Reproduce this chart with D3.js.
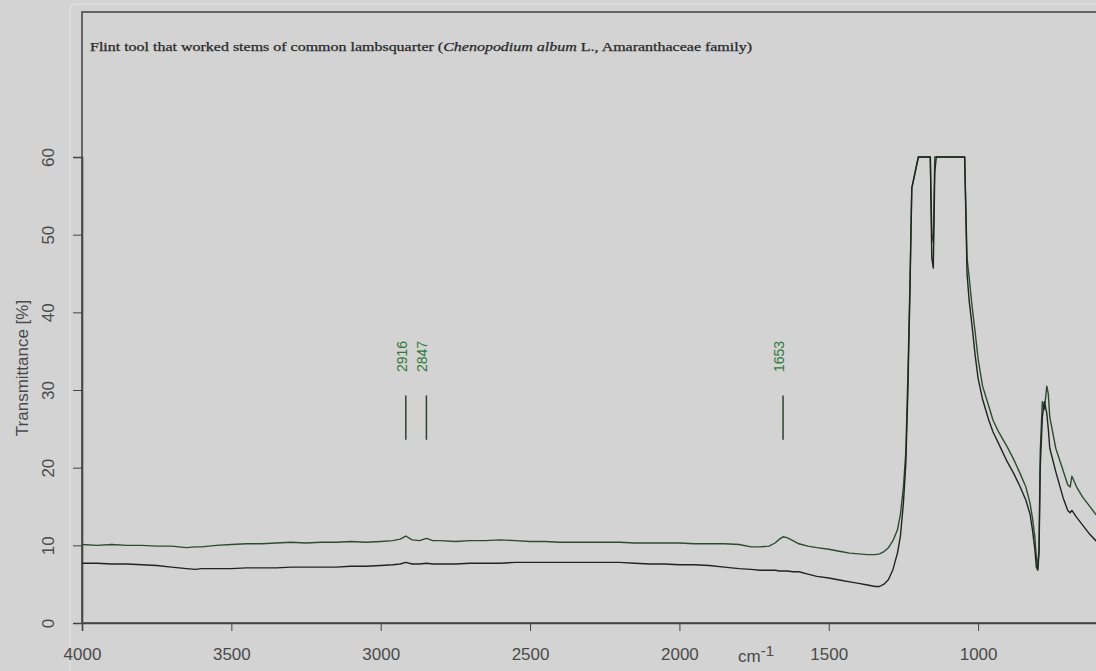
<!DOCTYPE html>
<html>
<head>
<meta charset="utf-8">
<script src="https://cdn.jsdelivr.net/npm/d3@7"></script>
<style>
  html, body { margin: 0; padding: 0; background: #d3d3d3; }
  svg { display: block; }
</style>
</head>
<body>
<svg id="chart" width="1096" height="671"></svg>
<script>
// Wavenumbers (cm-1), shared by both spectra
const wavenumbers = [4000, 3950, 3900, 3850, 3800, 3750, 3700, 3650, 3620, 3600, 3550, 3500, 3450, 3400, 3350, 3300, 3250, 3200, 3150, 3100, 3050, 3000, 2960, 2935, 2916, 2895, 2870, 2847, 2825, 2800, 2750, 2700, 2650, 2600, 2550, 2500, 2450, 2400, 2350, 2300, 2250, 2200, 2150, 2100, 2050, 2000, 1950, 1900, 1850, 1800, 1760, 1730, 1700, 1680, 1665, 1653, 1640, 1620, 1600, 1570, 1540, 1500, 1460, 1430, 1400, 1370, 1345, 1330, 1315, 1300, 1285, 1270, 1260, 1250, 1242, 1235, 1228, 1222, 1200, 1180, 1165, 1160, 1155, 1150, 1145, 1140, 1100, 1060, 1045, 1037, 1030, 1020, 1010, 1000, 985, 965, 950, 930, 903, 880, 860, 840, 826, 818, 810, 805, 800, 796, 792, 785, 778, 770, 765, 760, 740, 716, 700, 692, 686, 670, 650, 630, 606, 590];

// Upper spectrum (green), transmittance %
const upperSpectrum = [10.1, 10.0, 10.1, 10.0, 10.0, 9.9, 9.9, 9.7, 9.8, 9.8, 10.0, 10.1, 10.2, 10.2, 10.3, 10.4, 10.3, 10.4, 10.4, 10.5, 10.4, 10.5, 10.6, 10.8, 11.2, 10.7, 10.6, 10.9, 10.6, 10.6, 10.5, 10.6, 10.6, 10.7, 10.6, 10.5, 10.5, 10.4, 10.4, 10.4, 10.4, 10.4, 10.3, 10.3, 10.3, 10.3, 10.2, 10.2, 10.2, 10.1, 9.8, 9.8, 9.9, 10.3, 10.8, 11.1, 11.0, 10.6, 10.2, 9.9, 9.7, 9.5, 9.2, 9.0, 8.9, 8.8, 8.8, 8.9, 9.2, 9.7, 10.6, 12.0, 14.0, 17.5, 22, 32, 44, 56, 60, 60, 60, 60, 50, 49, 60, 60, 60, 60, 60, 47, 44.5, 40.7, 37.5, 34, 30.5, 28, 26.1, 24.5, 22.7, 21, 19.3, 17.5, 15.4, 13.5, 11.1, 8.5, 7.2, 10, 22, 28.5, 27.5, 30.5, 29.5, 26.5, 22.5, 19.7, 17.8, 17.5, 18.9, 17.5, 16.2, 15.2, 14.0, 13.3];

// Lower spectrum (black), transmittance %
const lowerSpectrum = [7.7, 7.7, 7.6, 7.6, 7.5, 7.4, 7.2, 7.0, 6.9, 7.0, 7.0, 7.0, 7.1, 7.1, 7.1, 7.2, 7.2, 7.2, 7.2, 7.3, 7.3, 7.4, 7.5, 7.6, 7.8, 7.6, 7.6, 7.7, 7.6, 7.6, 7.6, 7.7, 7.7, 7.7, 7.8, 7.8, 7.8, 7.8, 7.8, 7.8, 7.8, 7.8, 7.7, 7.6, 7.6, 7.5, 7.5, 7.4, 7.2, 7.0, 6.9, 6.8, 6.8, 6.8, 6.7, 6.7, 6.7, 6.6, 6.6, 6.3, 6.0, 5.8, 5.5, 5.3, 5.1, 4.9, 4.7, 4.7, 5.0, 5.6, 6.9, 9.0, 11.2, 15.5, 20.5, 30, 43, 56, 60, 60, 60, 60, 47, 45.7, 58, 60, 60, 60, 60, 45, 41.5, 38.2, 34.5, 31.5, 28.8, 26.2, 24.6, 23, 20.8, 19.2, 17.6, 15.8, 14.0, 12.0, 9.5, 7.2, 6.8, 9, 20, 26.5, 28.5, 27, 25, 22.5, 19.5, 16.2, 14.5, 14.2, 14.5, 13.6, 12.6, 11.6, 10.6, 10.0];

// Axis ticks
const xTicks = [4000, 3500, 3000, 2500, 2000, 1500, 1000];
const yTicks = [0, 10, 20, 30, 40, 50, 60];

// Peak markers
const peakLabels = ["2916", "2847", "1653"];
const peakPositions = [2916, 2847, 1653];
const markerRange = [23.6, 29.3];

const titleText = "Flint tool that worked stems of common lambsquarter (";
const titleItalic = "Chenopodium album";
const titleTail = " L., Amaranthaceae family)";

const svg = d3.select("#chart");
const W = 1096, H = 671;

svg.append("rect").attr("width", W).attr("height", H).attr("fill", "#d3d3d3");

const x = d3.scaleLinear().domain([4000, 400]).range([82, 82 + 3600 * 0.2987]);
const y = d3.scaleLinear().domain([0, 60]).range([623, 157]);

// Soft outer box and plot frame
svg.append("rect").attr("x", 70).attr("y", 4).attr("width", 1100).attr("height", 700)
  .attr("rx", 6).attr("fill", "none").attr("stroke", "#e2e2e2").attr("stroke-width", 1.2);
svg.append("rect").attr("x", 82).attr("y", 12).attr("width", 1100).attr("height", 611)
  .attr("fill", "none").attr("stroke", "#4a4a4a").attr("stroke-width", 1.6);

// Title
const title = svg.append("text")
  .attr("x", 90).attr("y", 51)
  .attr("font-family", "Liberation Serif, serif")
  .attr("font-size", 12)
  .attr("fill", "#2a2a2a")
  .attr("stroke", "#2a2a2a").attr("stroke-width", 0.25)
  .attr("textLength", 662)
  .attr("lengthAdjust", "spacingAndGlyphs");
title.append("tspan").text(titleText);
title.append("tspan").attr("font-style", "italic").text(titleItalic);
title.append("tspan").text(titleTail);

// Axes
const xAxis = d3.axisBottom(x).tickValues(xTicks).tickSize(8).tickFormat(d3.format("d"));
const gx = svg.append("g").attr("transform", "translate(0,623)").call(xAxis);
gx.select(".domain").attr("stroke", "#444").attr("stroke-width", 1.6);
gx.selectAll(".tick line").attr("stroke", "#444");
gx.selectAll(".tick text")
  .attr("font-family", "Liberation Sans, Arial, sans-serif")
  .attr("font-size", 17).attr("fill", "#4a4a4a").attr("y", 25).attr("dy", "0.71em");

const yAxis = d3.axisLeft(y).tickValues(yTicks).tickSize(9).tickFormat(d3.format("d"));
const gy = svg.append("g").attr("transform", "translate(82,0)").call(yAxis);
gy.select(".domain").attr("stroke", "#444").attr("stroke-width", 1.6);
gy.selectAll(".tick line").attr("stroke", "#444");
gy.selectAll(".tick text")
  .attr("font-family", "Liberation Sans, Arial, sans-serif")
  .attr("font-size", 17).attr("fill", "#4a4a4a")
  .attr("x", 0).attr("dy", 0)
  .attr("text-anchor", "middle")
  .attr("transform", "translate(-34,0) rotate(-90)")
  .attr("y", 6);

// Axis titles
svg.append("text")
  .attr("transform", "translate(28,368) rotate(-90)")
  .attr("text-anchor", "middle")
  .attr("font-family", "Liberation Sans, Arial, sans-serif")
  .attr("font-size", 17).attr("fill", "#4a4a4a")
  .text("Transmittance [%]");

const unit = svg.append("text")
  .attr("x", 738).attr("y", 662)
  .attr("font-family", "Liberation Sans, Arial, sans-serif")
  .attr("font-size", 17).attr("fill", "#4a4a4a");
unit.append("tspan").text("cm");
unit.append("tspan").attr("dy", -6).attr("font-size", 15).text("-1");

// Spectra
const line = d3.line()
  .x((d, i) => x(wavenumbers[i]))
  .y(d => y(d));

svg.append("path").datum(upperSpectrum)
  .attr("d", line).attr("fill", "none")
  .attr("stroke", "#2c4c30").attr("stroke-width", 1.4).attr("stroke-linejoin", "round");
svg.append("path").datum(lowerSpectrum)
  .attr("d", line).attr("fill", "none")
  .attr("stroke", "#1f241f").attr("stroke-width", 1.4).attr("stroke-linejoin", "round");

// Peak markers with labels
peakPositions.forEach((p, i) => {
  svg.append("line")
    .attr("x1", x(p)).attr("x2", x(p))
    .attr("y1", y(markerRange[0])).attr("y2", y(markerRange[1]))
    .attr("stroke", "#2c4030").attr("stroke-width", 1.5);
  svg.append("text")
    .attr("transform", `translate(${x(p) - 4},${y(markerRange[1]) - 39}) rotate(-90)`)
    .attr("text-anchor", "middle")
    .attr("dy", "0.35em")
    .attr("font-family", "Liberation Sans, Arial, sans-serif")
    .attr("font-size", 14).attr("fill", "#2f7a3a")
    .text(peakLabels[i]);
});
</script>
</body>
</html>
